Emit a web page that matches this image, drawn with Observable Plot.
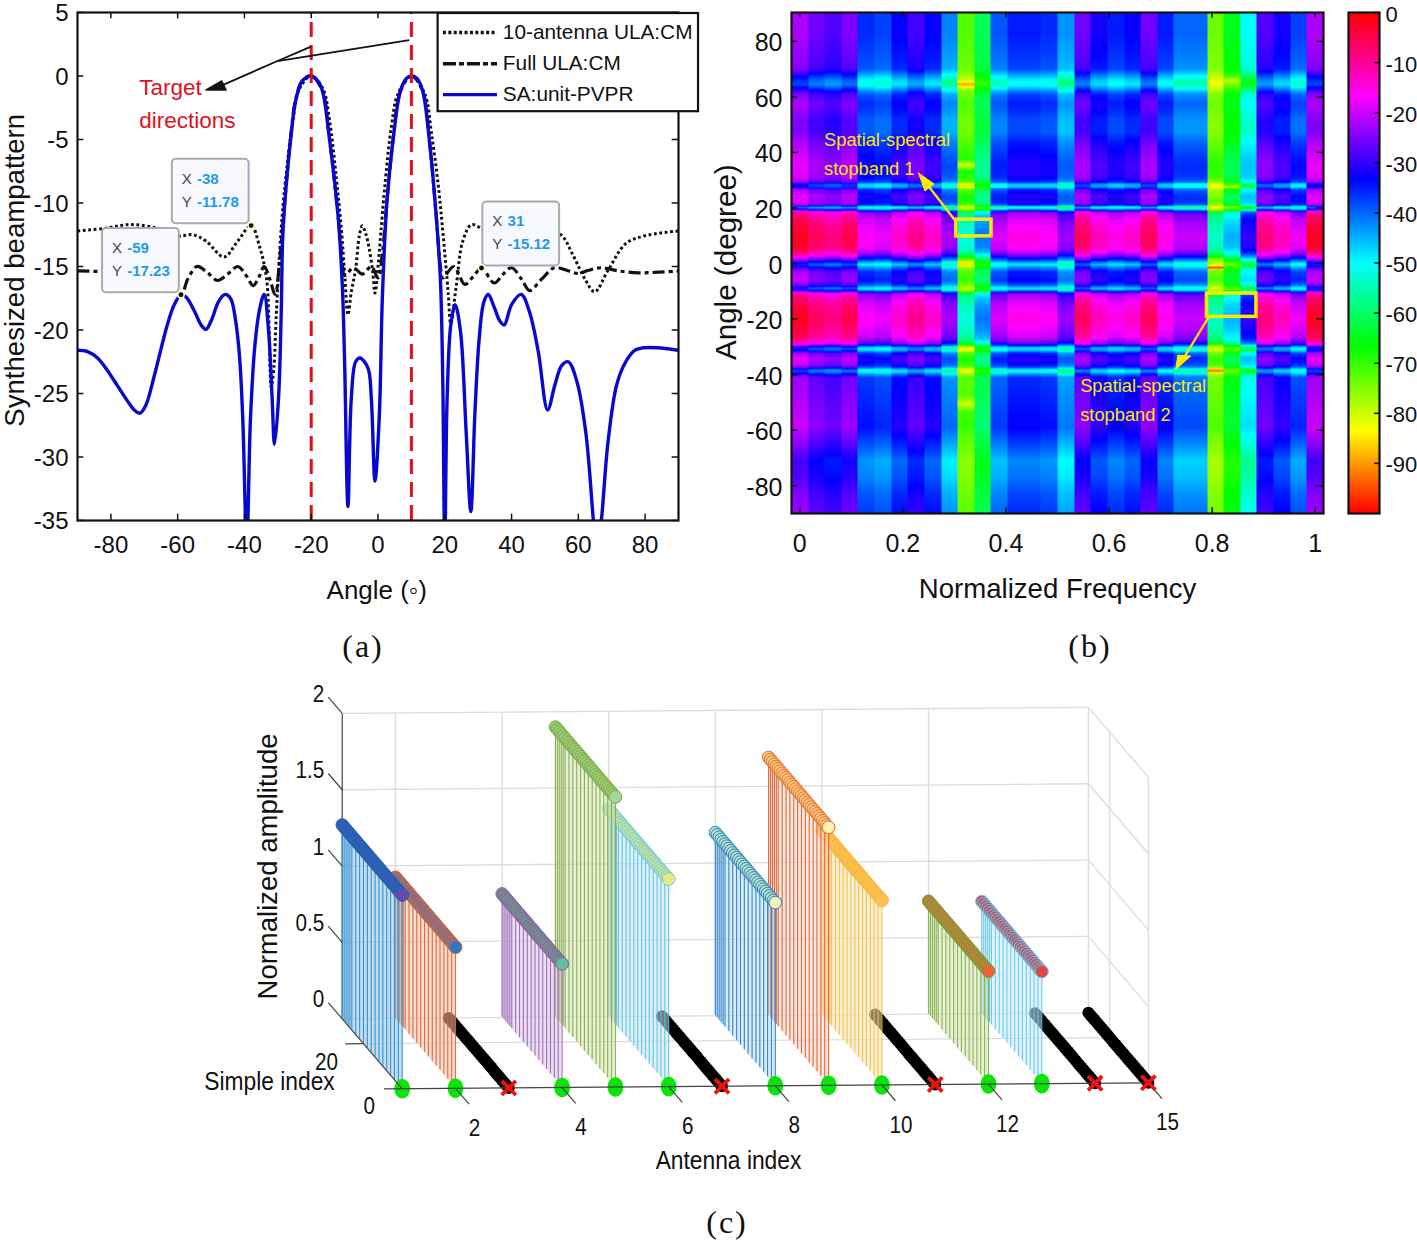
<!DOCTYPE html>
<html><head><meta charset="utf-8">
<script src="https://cdn.jsdelivr.net/npm/d3@7"></script>
<script src="https://cdn.jsdelivr.net/npm/@observablehq/plot@0.6"></script>
<style>
html,body{margin:0;padding:0;background:#fff}
#page{position:relative;width:1417px;height:1241px;overflow:hidden}
#page svg{position:absolute;overflow:visible;background:transparent}
.cap{position:absolute;font-family:"Liberation Serif",serif;font-size:32px;letter-spacing:2px;color:#111;transform:translate(-50%,-50%)}
</style></head><body><div id="page"></div>
<script>
const SANS='"Liberation Sans",sans-serif';

/* ---------- panel (a) values ---------- */
const blueCurve=[[-90,-21.6],[-87,-21.7],[-84,-22.2],[-81,-23.2],[-78,-24.4],[-75,-25.6],[-73,-26.3],[-71.3,-26.55],[-69.5,-25.9],[-67,-23.6],[-65,-21.5],[-63,-19.5],[-61,-18],[-59,-17.23],[-57.5,-17.4],[-55,-18.5],[-53,-19.6],[-51.5,-19.95],[-50,-19.3],[-48,-17.9],[-46.5,-17.3],[-45.5,-17.2],[-44,-17.6],[-42.8,-19],[-41.5,-22],[-40.5,-27],[-39.3,-37],[-38.2,-27],[-36.8,-21],[-35.4,-18.3],[-34.1,-17.2],[-32.8,-20],[-31.7,-25.4],[-31,-29],[-29.8,-25.4],[-29,-18.8],[-28.5,-12.5],[-27.3,-8],[-26,-4.6],[-24.7,-2],[-22.7,-.4],[-20,0],[-18,-.4],[-16.6,-1.2],[-14.7,-4.6],[-12,-10.9],[-10.7,-16.4],[-10,-22.5],[-9,-33.9],[-8,-25.4],[-6.7,-22.5],[-5.4,-22.2],[-3,-23],[-2,-25.4],[-.9,-31.9],[.4,-26.7],[1.3,-17.5],[2.7,-9.8],[4.7,-4.6],[6.7,-1.2],[8.5,-.2],[10,0],[11.7,-.2],[13.4,-1.2],[15.4,-5.1],[17.4,-10.9],[18.7,-16.1],[19.4,-24],[20,-37],[20.7,-25.4],[21.8,-19.6],[23.1,-18],[24.7,-20.1],[26.4,-28],[27.8,-34.3],[29,-26.7],[30.3,-20.7],[31.7,-17.8],[33,-17.2],[34.8,-18.2],[36.5,-19.3],[37.8,-19.6],[40,-18],[42.9,-17.2],[45.4,-18.6],[48,-21.7],[50.8,-26.3],[53,-24.3],[55,-22.8],[57,-22.5],[59.5,-24],[62.2,-28],[64.5,-35],[65.5,-38],[66.9,-35],[68.9,-28.8],[71.5,-24.3],[74.2,-22.5],[76.9,-21.6],[79.6,-21.4],[83.6,-21.4],[90,-21.6]];
const dottedCurve=[[-90,-12.2],[-82,-12],[-74.2,-11.7],[-66,-12],[-60,-12.6],[-55.5,-12.5],[-51.5,-13],[-46.1,-14.25],[-42,-13],[-38,-11.78],[-35.4,-13.5],[-33.4,-15.9],[-32.6,-20],[-32,-24.5],[-31.2,-23],[-30.5,-19],[-29.7,-15],[-28.7,-11],[-27.4,-7.5],[-25.5,-3.5],[-23.5,-1],[-20,0],[-16.5,-1],[-14.5,-3.5],[-12.5,-8],[-11,-12],[-10,-15.5],[-9,-18.8],[-8,-17],[-6.7,-15.2],[-5.6,-12.6],[-4.7,-11.8],[-3.7,-12.4],[-2.7,-13.5],[-1.6,-15.4],[-.9,-17.1],[0,-15],[.8,-12.5],[2,-8.8],[4,-4],[6,-1.4],[10,0],[14,-1.4],[16,-4.5],[18,-8.5],[19.5,-12.5],[21,-17],[21.8,-19.5],[23.4,-16.6],[25.4,-13],[28,-11.7],[30.8,-12],[33,-12.4],[40,-12.2],[48,-11.9],[54.8,-12.5],[58.2,-14],[62.2,-16.1],[64.9,-17],[68.9,-15.3],[74.2,-13.2],[79.6,-12.6],[90,-12.2]];
const dashCurve=[[-90,-15.35],[-80,-15.4],[-70,-15.4],[-64,-15.7],[-59,-17.23],[-57,-16],[-54.2,-15],[-51,-15.5],[-48.1,-16.1],[-45,-15.6],[-42,-15],[-39.5,-15.7],[-37.4,-16.5],[-35.6,-15.8],[-34.1,-15],[-32.4,-16],[-30.8,-17.2],[-29.6,-15],[-28.3,-11],[-26,-4.4],[-24.7,-1.9],[-22.7,-.4],[-20,0],[-16.6,-1.2],[-14.7,-4.6],[-12,-10.9],[-10.7,-14.5],[-10,-15.7],[-7.3,-15.1],[-4.7,-15.6],[-2,-15],[0,-15.9],[1.3,-14],[2.7,-9.8],[4.7,-4.6],[6.7,-1.2],[10,0],[13.4,-1.2],[15.4,-5.1],[17.4,-10.9],[18.7,-15],[19.4,-15.9],[22.7,-15],[26,-16.4],[28.5,-15.8],[31,-15.12],[34.8,-16.3],[37.5,-15.6],[40,-15.1],[43,-16],[45.4,-16.9],[49,-16],[52.8,-15.1],[56.5,-15.3],[60,-15.55],[63,-15.3],[66.9,-15.1],[72,-15.35],[78,-15.5],[84,-15.45],[90,-15.35]];
const targetAngles=[-20,10];
const xTicksA=[-80,-60,-40,-20,0,20,40,60,80], yTicksA=[5,0,-5,-10,-15,-20,-25,-30,-35];
const tips=[
 {px:-38,py:-11.78,x1:-61.6,x2:-38.6,y1:-6.56,y2:-11.63},
 {px:-59,py:-17.23,x1:-82.5,x2:-59.5,y1:-12,y2:-17.06},
 {px:31,py:-15.12,x1:31.4,x2:54.4,y1:-9.92,y2:-14.96}];
const legendRows=[
 {y:3.42,name:"10-antenna ULA:CM",stroke:"#111",dash:"3 2.4",w:3.4},
 {y:.97,name:"Full ULA:CM",stroke:"#111",dash:"13 3 5 3",w:3.4},
 {y:-1.47,name:"SA:unit-PVPR",stroke:"#0808d0",dash:null,w:3.4}];
const pointerA=[[-20.06,2.31],[-30.1,1.18],[9.36,2.83]];
const pointerHead=[[-51.5,-1.1],[-46.8,-.39],[-45.5,-1.1],[-51.5,-1.1]];

/* ---------- panel (b) values ---------- */
const freqColumn=[-22,-26,-28,-25,-36,-37.5,-33,-29,-33,-42,-72,-61,-39,-35,-35,-36,-43,-26,-32,-35,-33,-26,-35,-40,-40,-73.6,-65,-50,-28,-32,-37.5,-22];
const angleKnots=[-90,-82.6,-76.6,-70.7,-65.9,-58.7,-46.7,-41,-39.8,-38.9,-38.3,-37.4,-36.5,-34.1,-32.3,-31.4,-30.5,-29.6,-28.7,-27,-24,-19.8,-15.6,-12.6,-10.8,-9.8,-9,-7.8,-6,-3,-1.2,-.5,0,1.2,2.5,4,6,10,14,17,18.5,19.5,20,20.5,21,22,24,25.5,26.8,27.5,28.5,29.3,31,35,38,44,47,52,55,58,61,63,64.5,66,67.5,70,73,82.6,90.4];
const angleOffset=[-1,-3,-6,-7,-3,2,0,-1,-8,-16,-14,-3,2,4,0,-10,-14,-1,9,15,18,20,18,15,11,-5,-15,-3,2,0,-8,-14,-12,-2,7,15,19,20,18,15,11,-8,-18,-15,0,3,4,2,-1,-11,-12,-1,3,4,3,0,-3,-3,-1,0,-3,-10,-16,-14,-10,-3,-2,0,0];
const spotColumn=[10,10,10,10,10,10,10,25,25,26,26,25];
const spotAngle=[35.5,28,64.5,0,-31,-38.5,-50.5,-1.5,-38.5,66,27.5,25];
const spotDelta=[-13,-8,-9,-8,-7,-5,-9,-22,-12,-7,-9,-5];
const spotWidth=[2,1.2,1.6,1.5,1,1,3,.8,1,1.4,.7,6];
const xTicksB=[0,.2,.4,.6,.8,1], yTicksB=[80,60,40,20,0,-20,-40,-60,-80];
const barTicks=[0,-10,-20,-30,-40,-50,-60,-70,-80,-90];
const boxes=[{x1:.3036,x2:.372,y1:9.8,y2:15.8},{x1:.79,x2:.886,y1:-19.2,y2:-10.8}];
const bShafts=[{x1:.301,y1:15.6,x2:.245,y2:29},{x1:.793,y1:-19.4,x2:.745,y2:-34}];
const bHeads=[[[.2303,32.6],[.2603,28.7],[.2429,26.1],[.2303,32.6]],[[.7295,-38.1],[.7587,-33.3],[.7334,-33],[.7295,-38.1]]];
const bNotes=[{f:.047,a:44.5,t:"Spatial-spectral"},{f:.047,a:34.1,t:"stopband 1"},{f:.544,a:-44.3,t:"Spatial-spectral"},{f:.544,a:-54.5,t:"stopband 2"}];

/* ---------- panel (c) values ---------- */
const antennas=[1,2,3,4,5,6,7,8,9,10,11,12,13,14,15];
const amplitude=[1.27,.925,0,.81,1.9,1.36,0,1.2,1.69,1.21,0,.74,.735,0,0];
const stemColor=["#2f8ccc","#d8663a",null,"#9a68b4","#86ad4c","#62bce0",null,"#2b80c4","#d96236","#efbe55",null,"#86b04e","#68c4f0",null,null];
const tintColor=["#8cc4e8","#f4c0a4",null,"#dcc4e8","#d4e4b0","#c0e8f8",null,"#b8dcf4","#fad4c4","#fde6a8",null,"#d4e4b0","#c4ecfc",null,null];
const dotFill=["#2d5fb5","#7f6e8c",null,"#6e9486","#9ccb72","#c6e296",null,"#b4dfc6","#ffc67e","#fbc04e",null,"#bb7f3e","#b0606e",null,null];
const dotEdge=["#2d5fb5","#d06a40",null,"#9060b0","#7cae50","#72cbe0",null,"#2f82c2","#df7030","#f6b840",null,"#7f9e34","#70c0e8",null,null];
const frontDot=["#6a48aa","#2f78c4",null,"#60c09e","#a4d694","#e4ea82",null,"#f2f2b8","#fff0b0","#fbc050",null,"#f06030","#e04848",null,null];
const samples=d3.range(31,-1,-1);
const stemSamples=samples.filter(s=>s%2===0||s>26);
const amplitudeTicks=[2,1.5,1,.5,0], antennaTicks=[2,4,6,8,10,12,15];

/* 3-D view of panel (c) */
const view={x0:401.7,y0:1088.3,di:53.3,tilt:.43,sx:60/31,sy:70/31,dz:152.7};
const PX=(i,s)=>view.x0+view.di*(i-1)-view.sx*s;
const PY=(i,s,z)=>view.y0-view.tilt*(i-1)-view.sy*s-view.dz*z;
const seg=(a,b)=>({x1:PX(a[0],a[1]),y1:PY(a[0],a[1],a[2]),x2:PX(b[0],b[1]),y2:PY(b[0],b[1],b[2])});

const page=document.getElementById("page");
function put(svg,l,t){svg.style.left=l+"px";svg.style.top=t+"px";page.appendChild(svg);return svg}
function cap(t,x,y){const d=document.createElement("div");d.className="cap";d.textContent=t;d.style.left=x+"px";d.style.top=y+"px";page.appendChild(d)}
const str=d=>String(d);
/* squeeze horizontal text, as the source image is squeezed */
function squeeze(svg,k){svg.querySelectorAll("text").forEach(t=>{
 if(/rotate/.test(t.getAttribute("transform")||""))return;
 t.setAttribute("textLength",t.getComputedTextLength()*k);t.setAttribute("lengthAdjust","spacingAndGlyphs");});}

/* ---------- (a) ---------- */
const ltA=.5, lxA=1.9;
put(Plot.plot({
 width:700,height:600,marginLeft:77,marginRight:22,marginTop:12,marginBottom:80,
 style:{fontFamily:SANS,fontSize:"24px",color:"#111",overflow:"visible"},
 x:{domain:[-90,90],ticks:xTicksA,tickFormat:str},
 y:{domain:[-35,5],ticks:yTicksA,tickFormat:str},
 marks:[
  Plot.axisX(xTicksA,{anchor:"bottom",tickSize:0,tickPadding:15,tickFormat:str,label:null,fontSize:24}),
  Plot.axisY(yTicksA,{anchor:"left",tickSize:0,tickPadding:9,dy:1,tickFormat:str,label:null,fontSize:24}),
  Plot.line(dottedCurve,{curve:"catmull-rom",stroke:"#111",strokeWidth:3,strokeDasharray:"2.8 2.6",strokeLinecap:"butt",clip:true}),
  Plot.line(dashCurve,{curve:"catmull-rom",stroke:"#111",strokeWidth:3.2,strokeDasharray:"12 4 4 4",strokeLinecap:"butt",clip:true}),
  Plot.line(blueCurve,{curve:"catmull-rom",stroke:"#0808d0",strokeWidth:3.4,clip:true}),
  Plot.ruleX(targetAngles,{y1:-35,y2:5,stroke:"#e0101c",strokeWidth:3,strokeDasharray:"15 8"}),
  Plot.ruleX(xTicksA,{y1:-35,y2:-35+ltA,stroke:"#111",strokeWidth:1.5}),
  Plot.ruleX(xTicksA,{y1:5,y2:5-ltA,stroke:"#111",strokeWidth:1.5}),
  Plot.ruleY(yTicksA,{x1:-90,x2:-90+lxA,stroke:"#111",strokeWidth:1.5}),
  Plot.ruleY(yTicksA,{x1:90,x2:90-lxA,stroke:"#111",strokeWidth:1.5}),
  Plot.frame({stroke:"#111",strokeWidth:2.2}),
  Plot.link([{a:pointerA[0],b:pointerA[1]},{a:pointerA[2],b:pointerA[1]}],{x1:d=>d.a[0],y1:d=>d.a[1],x2:d=>d.b[0],y2:d=>d.b[1],stroke:"#111",strokeWidth:1.8}),
  Plot.link([pointerA[1]],{x1:d=>d[0],y1:d=>d[1],x2:-46.4,y2:-.7,stroke:"#111",strokeWidth:1.8}),
  Plot.line(pointerHead,{fill:"#111",stroke:"#111"}),
  Plot.text(["Target","directions"],{x:-71.5,y:d=>d==="Target"?-.95:-3.55,textAnchor:"start",fill:"#e0101c",fontSize:22.5}),
  Plot.rect(tips,{x1:"x1",x2:"x2",y1:"y1",y2:"y2",fill:"#f8f8ff",stroke:"#aaa",strokeWidth:2,rx:4}),
  Plot.text(tips,{x:d=>d.x1+2.8,y:d=>d.y1-1.55,text:()=>"X",textAnchor:"start",fontSize:15,fill:"#444"}),
  Plot.text(tips,{x:d=>d.x1+2.8,y:d=>d.y1-3.35,text:()=>"Y",textAnchor:"start",fontSize:15,fill:"#444"}),
  Plot.text(tips,{x:d=>d.x1+7.4,y:d=>d.y1-1.55,text:d=>String(d.px),textAnchor:"start",fontSize:15,fontWeight:"bold",fill:"#1e9be8"}),
  Plot.text(tips,{x:d=>d.x1+7.4,y:d=>d.y1-3.35,text:d=>String(d.py),textAnchor:"start",fontSize:15,fontWeight:"bold",fill:"#1e9be8"}),
  Plot.dot(tips,{x:"px",y:"py",r:3.2,fill:"#111",stroke:"#ffffc8",strokeWidth:1.5}),
  Plot.rect([0],{x1:18,x2:96,y1:-2.81,y2:4.92,fill:"#fff",stroke:"#111",strokeWidth:2.2}),
  ...legendRows.map(r=>Plot.ruleY([r.y],{x1:19.6,x2:35.8,stroke:r.stroke,strokeWidth:r.w,strokeDasharray:r.dash,strokeLinecap:"butt"})),
  Plot.text(legendRows,{x:37.4,y:"y",text:"name",textAnchor:"start",fontSize:20.8}),
  Plot.text(["Angle (\u25E6)"],{x:-.4,y:-40.5,fontSize:26,fill:"#111"}),
  Plot.text(["Synthesized beampattern"],{x:-108.6,y:-15.3,rotate:-90,fontSize:27.6,fill:"#111"})
 ]
}),0,0);

/* ---------- (b) ---------- */
const rowOff=d3.scaleLinear().domain(angleKnots).range(angleOffset);
function heat(f,a){
 const c=Math.max(0,Math.min(31,Math.round(f*31)));
 let o=rowOff(a);
 if(freqColumn[c]<-55&&o<0)o*=.55;
 let v=freqColumn[c]+o;
 spotColumn.forEach((k,j)=>{if(k===c){const u=Math.abs(a-spotAngle[j])/spotWidth[j];if(u<1)v+=spotDelta[j]*(1-u)}});
 return Math.max(-100,Math.min(0,v));
}
const hsvRamp=t=>d3.hsl(360*t,1,.5).formatRgb();
const tickF=.0125,tickA=2.1;
put(Plot.plot({
 width:640,height:600,marginLeft:91,marginRight:17,marginTop:12,marginBottom:87,
 style:{fontFamily:SANS,fontSize:"25px",color:"#111",overflow:"visible"},
 x:{domain:[-1/62,1+1/62],tickFormat:str},
 y:{domain:[-90,90.4],tickFormat:str},
 color:{type:"linear",domain:[-100,0],interpolate:hsvRamp},
 marks:[
  Plot.raster({fill:heat,x1:-1/62,x2:1+1/62,y1:-90,y2:90.4}),
  Plot.axisX(xTicksB,{anchor:"bottom",tickSize:0,tickPadding:21,tickFormat:str,label:null,fontSize:25}),
  Plot.axisY(yTicksB,{anchor:"left",tickSize:0,tickPadding:9,dy:2,tickFormat:str,label:null,fontSize:25}),
  Plot.ruleX(xTicksB,{y1:-90,y2:-90+tickA,stroke:"#111",strokeWidth:1.5}),
  Plot.ruleX(xTicksB,{y1:90.4,y2:90.4-tickA,stroke:"#111",strokeWidth:1.5}),
  Plot.ruleY(yTicksB,{x1:-1/62,x2:-1/62+tickF,stroke:"#111",strokeWidth:1.5}),
  Plot.ruleY(yTicksB,{x1:1+1/62,x2:1+1/62-tickF,stroke:"#111",strokeWidth:1.5}),
  Plot.frame({stroke:"#111",strokeWidth:2.2}),
  Plot.rect(boxes,{x1:"x1",x2:"x2",y1:"y1",y2:"y2",stroke:"#ffe800",strokeWidth:3.5,fill:"none"}),
  Plot.link(bShafts,{x1:"x1",y1:"y1",x2:"x2",y2:"y2",stroke:"#ffe800",strokeWidth:2.2}),
  ...bHeads.map(h=>Plot.line(h,{fill:"#ffe800",stroke:"#ffe800",strokeWidth:1})),
  Plot.text(bNotes,{x:"f",y:"a",text:"t",textAnchor:"start",fill:"#ffe800",fontSize:18.3}),
  Plot.text(["Normalized Frequency"],{x:.5,y:-117.3,fontSize:27.6,fill:"#111"}),
  Plot.text(["Angle (degree)"],{x:-.143,y:.5,rotate:-90,fontSize:29.6,fill:"#111"})
 ]
}),700,0);

/* colour bar */
put(Plot.plot({
 width:77,height:600,marginLeft:8,marginRight:38,marginTop:12,marginBottom:87,
 style:{fontFamily:SANS,fontSize:"22px",color:"#111",overflow:"visible"},
 x:{domain:[0,1],axis:null},
 y:{domain:[-100,0],axis:null},
 color:{type:"linear",domain:[-100,0],interpolate:hsvRamp},
 marks:[
  Plot.raster({fill:(x,y)=>y,x1:0,x2:1,y1:-100,y2:0}),
  Plot.ruleY(barTicks,{x1:.84,x2:1,stroke:"#111",strokeWidth:1.5}),
  Plot.frame({stroke:"#111",strokeWidth:2.2}),
  Plot.text(barTicks,{x:1,y:d=>d,dx:6,dy:2,text:str,textAnchor:"start",fontSize:22})
 ]
}),1340,0);

/* ---------- (c) ---------- */
const zLevels=[0,.5,1,1.5,2];
const gridSegs=[
 ...zLevels.map(z=>seg([1,31,z],[15,31,z])),
 ...antennaTicks.map(i=>seg([i,31,0],[i,31,2])),
 ...zLevels.map(z=>seg([15,31,z],[15,0,z])),
 seg([15,20,0],[15,20,2]),seg([15,0,0],[15,0,2]),seg([1,20,0],[15,20,0])];
const axisSegs=[
 seg([1,31,0],[1,31,2]),seg([1,31,0],[1,0,0]),seg([.66,0,0],[15,0,0]),
 seg([.66,20,0],[1,20,0]),
 ...amplitudeTicks.map(z=>seg([1,31,z],[1,38.2,z])),
 ...antennaTicks.map(i=>seg([i,0,0],[i,-7,0]))];
const ellipse={draw(c,size){const r=Math.sqrt(size/Math.PI),rx=r*.82,ry=r*1.02,k=.5523;
 c.moveTo(rx,0);c.bezierCurveTo(rx,ry*k,rx*k,ry,0,ry);c.bezierCurveTo(-rx*k,ry,-rx,ry*k,-rx,0);c.bezierCurveTo(-rx,-ry*k,-rx*k,-ry,0,-ry);c.bezierCurveTo(rx*k,-ry,rx,-ry*k,rx,0);c.closePath();}};
const antennaMarks=[];
for(let n=antennas.length-1;n>=0;n--){
 const i=antennas[n],z=amplitude[n];
 if(z===0){
  antennaMarks.push(Plot.dot(samples,{x:s=>PX(i,s),y:s=>PY(i,s,0),r:6,fill:"#000"}));
 }else{
  antennaMarks.push(
   Plot.areaY(samples,{x:s=>PX(i,s),y1:s=>PY(i,s,0),y2:s=>PY(i,s,z),fill:tintColor[n],fillOpacity:.55}),
   Plot.ruleX(stemSamples,{x:s=>PX(i,s),y1:s=>PY(i,s,0),y2:s=>PY(i,s,z),stroke:stemColor[n],strokeWidth:1.1,strokeOpacity:.95}),
   Plot.dot(samples,{x:s=>PX(i,s),y:s=>PY(i,s,z),r:6.2,fill:dotFill[n],stroke:dotEdge[n],strokeWidth:1}),
   Plot.dot([0],{x:s=>PX(i,s),y:s=>PY(i,s,z),r:6.4,fill:frontDot[n],stroke:dotEdge[n],strokeWidth:1})
  );
 }
}
const activeIdx=antennas.filter((_,n)=>amplitude[n]>0), silentIdx=antennas.filter((_,n)=>amplitude[n]===0);
const svgC=put(Plot.plot({
 width:1417,height:581,marginLeft:0,marginRight:0,marginTop:0,marginBottom:0,
 style:{fontFamily:SANS,fontSize:"24px",color:"#111",overflow:"visible"},
 x:{domain:[0,1417],axis:null},
 y:{domain:[1241,660],axis:null},
 marks:[
  Plot.link(gridSegs,{x1:"x1",y1:"y1",x2:"x2",y2:"y2",stroke:"#dcdcdc",strokeWidth:1.3}),
  Plot.link(axisSegs.slice(0,1),{x1:"x1",y1:"y1",x2:"x2",y2:"y2",stroke:"#333",strokeWidth:1.1}),
  ...antennaMarks,
  Plot.dot(activeIdx,{x:i=>PX(i,0),y:i=>PY(i,0,0),r:9.6,symbol:ellipse,fill:"#0be40b"}),
  Plot.link(axisSegs.slice(1),{x1:"x1",y1:"y1",x2:"x2",y2:"y2",stroke:"#444",strokeWidth:1.2}),
  Plot.dot(silentIdx,{x:i=>PX(i,0),y:i=>PY(i,0,0),r:6.5,symbol:"times",stroke:"#f01010",strokeWidth:3.8}),
  Plot.text(amplitudeTicks,{x:()=>PX(1,31),y:z=>PY(1,31,z),dx:-18,dy:-19,text:str,textAnchor:"end",fontSize:24}),
  Plot.text(antennaTicks,{x:i=>PX(i,0),y:i=>PY(i,0,0),dx:19,dy:40,text:str,fontSize:24}),
  Plot.text([0],{x:s=>PX(1,s),y:s=>PY(1,s,0),dx:-33,dy:18,text:str,fontSize:24}),
  Plot.text([20],{x:s=>PX(1,s),y:s=>PY(1,s,0),dx:-37,dy:19,text:str,fontSize:24}),
  Plot.text(["Simple index"],{x:269,y:1081,fontSize:26.5}),
  Plot.text(["Antenna index"],{x:728,y:1160,fontSize:26.5}),
  Plot.text(["Normalized amplitude"],{x:268,y:866,rotate:-90,fontSize:27.5})
 ]
}),0,660);
squeeze(svgC,.86);

cap("(a)",363,646);cap("(b)",1090,646);cap("(c)",727,1222);
</script></body></html>
